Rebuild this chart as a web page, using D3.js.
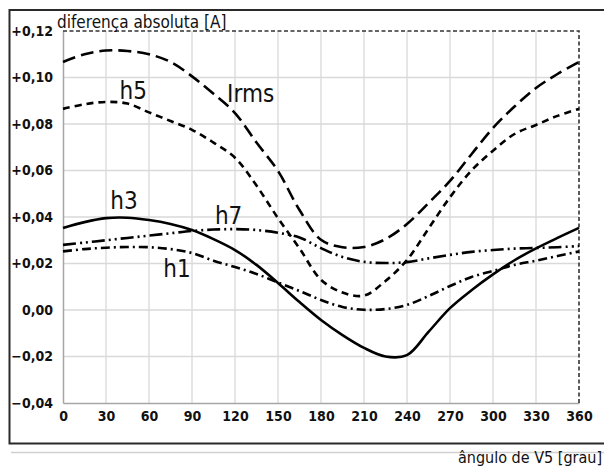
<!DOCTYPE html>
<html>
<head>
<meta charset="utf-8">
<script src="https://cdn.jsdelivr.net/npm/d3@7/dist/d3.min.js"></script>
<style>
  html, body { margin: 0; padding: 0; background: #fff; }
  svg { display: block; }
</style>
</head>
<body>
<svg id="chart" width="604" height="468"></svg>
<script>
// Angle of V5 in degrees, sampled every 15°
const angles = [0, 15, 30, 45, 60, 75, 90, 105, 120, 135, 150, 165, 180,
                195, 210, 225, 240, 255, 270, 285, 300, 315, 330, 345, 360];

// Absolute difference [A] for each quantity
const irms = [0.1067, 0.1100, 0.1116, 0.1114, 0.1100, 0.1067, 0.1005, 0.0930, 0.0847, 0.0720, 0.0598, 0.0430, 0.0302,
              0.0270, 0.0271, 0.0305, 0.0370, 0.0460, 0.0555, 0.0670, 0.0783, 0.0875, 0.0955, 0.1015, 0.1067];
const h5   = [0.0865, 0.0885, 0.0895, 0.0888, 0.0850, 0.0813, 0.0775, 0.0720, 0.0655, 0.0535, 0.0395, 0.0265, 0.0130,
              0.0075, 0.0062, 0.0125, 0.0215, 0.0350, 0.0485, 0.0600, 0.0685, 0.0757, 0.0796, 0.0835, 0.0865];
const h3   = [0.0353, 0.0378, 0.0395, 0.0397, 0.0387, 0.0370, 0.0344, 0.0305, 0.0258, 0.0194, 0.0116, 0.0034, -0.0043,
              -0.0108, -0.0163, -0.0200, -0.0194, -0.0094, 0.0008, 0.0085, 0.0153, 0.0214, 0.0265, 0.0310, 0.0353];
const h7   = [0.0280, 0.0290, 0.0300, 0.0310, 0.0320, 0.0330, 0.0340, 0.0346, 0.0348, 0.0344, 0.0332, 0.0312, 0.0266,
              0.0228, 0.0207, 0.0202, 0.0206, 0.0222, 0.0237, 0.0250, 0.0258, 0.0264, 0.0267, 0.0270, 0.0275];
const h1   = [0.0252, 0.0262, 0.0268, 0.0271, 0.0270, 0.0262, 0.0245, 0.0212, 0.0185, 0.0155, 0.0118, 0.0082, 0.0043,
              0.0013, 0.0001, 0.0004, 0.0022, 0.0060, 0.0103, 0.0142, 0.0168, 0.0194, 0.0212, 0.0232, 0.0252];

// Axis ticks
const xTicks = [0, 30, 60, 90, 120, 150, 180, 210, 240, 270, 300, 330, 360];
const yTicks = [-0.04, -0.02, 0.00, 0.02, 0.04, 0.06, 0.08, 0.10, 0.12];
const yTickLabels = ["\u22120,04", "\u22120,02", "0,00", "+0,02", "+0,04", "+0,06", "+0,08", "+0,10", "+0,12"];

// Series names with the point where each name is written (angle, value)
const seriesNames = ["Irms", "h5", "h3", "h7", "h1"];
const labelAngles = [114.5, 39.5, 33, 106, 70];
const labelValues = [0.0895, 0.0908, 0.0434, 0.0370, 0.0142];

const svg = d3.select("#chart");
const W = 604, H = 468;
const plot = { left: 63, top: 31, width: 516, height: 372 };

const x = d3.scaleLinear().domain([0, 360]).range([plot.left, plot.left + plot.width]);
const y = d3.scaleLinear().domain([-0.04, 0.12]).range([plot.top + plot.height, plot.top]);

const tickFont = "'DejaVu Sans Condensed', 'DejaVu Sans', sans-serif";
const textFont = "'Liberation Sans Narrow', 'DejaVu Sans Condensed', sans-serif";

// Outer frame
svg.append("line").attr("x1", 11).attr("x2", W).attr("y1", 452.5).attr("y2", 452.5)
  .attr("stroke", "#d0d0d0").attr("stroke-width", 1.5);
svg.append("path")
  .attr("d", `M${W + 5},10 H9.5 V443.5 H${W + 5}`)
  .attr("fill", "none").attr("stroke", "#2a2a2a").attr("stroke-width", 2);

// Gridlines
const grid = svg.append("g");
grid.selectAll(".vg").data(xTicks.slice(1, -1)).join("line")
  .attr("x1", d => x(d)).attr("x2", d => x(d))
  .attr("y1", plot.top).attr("y2", plot.top + plot.height)
  .attr("stroke", "#d9d9d9").attr("stroke-width", 1.3);
grid.selectAll(".hg").data(yTicks.slice(1, -1)).join("line")
  .attr("x1", plot.left).attr("x2", plot.left + plot.width)
  .attr("y1", d => y(d)).attr("y2", d => y(d))
  .attr("stroke", "#d9d9d9").attr("stroke-width", 1.3);

// Axes (left and bottom solid, top and right dashed)
const xAxis = d3.axisBottom(x).tickValues(xTicks).tickSize(0).tickPadding(8).tickFormat(d3.format("d"));
const yAxis = d3.axisLeft(y).tickValues(yTicks).tickSize(0).tickPadding(10)
  .tickFormat((d, i) => yTickLabels[i]);

const gx = svg.append("g").attr("transform", `translate(0,${plot.top + plot.height})`).call(xAxis);
const gy = svg.append("g").attr("transform", `translate(${plot.left},0)`).call(yAxis);
[gx, gy].forEach(g => {
  g.select(".domain").attr("stroke", "#a6a6a6").attr("stroke-width", 1.5);
  g.selectAll("text").attr("font-family", tickFont).attr("font-size", 14)
    .attr("font-weight", "bold").attr("fill", "#111");
});

svg.append("path")
  .attr("d", `M${plot.left},${plot.top} H${plot.left + plot.width} V${plot.top + plot.height}`)
  .attr("fill", "none").attr("stroke", "#333").attr("stroke-width", 1.6)
  .attr("stroke-dasharray", "4,2.5");

// Curves
const line = d3.line().x((d, i) => x(angles[i])).y(d => y(d)).curve(d3.curveCatmullRom.alpha(0.5));
const series = [
  { values: irms, dash: "13,6" },
  { values: h5,   dash: "7,5" },
  { values: h3,   dash: null },
  { values: h7,   dash: "13,4,2,4,2,4" },
  { values: h1,   dash: "9,4,2,4" }
];
svg.append("g").selectAll("path").data(series).join("path")
  .attr("d", d => line(d.values))
  .attr("fill", "none").attr("stroke", "#000").attr("stroke-width", 2.6)
  .attr("stroke-dasharray", d => d.dash);

// Series names
svg.append("g").selectAll("text").data(seriesNames).join("text")
  .attr("x", (d, i) => x(labelAngles[i]))
  .attr("y", (d, i) => y(labelValues[i]))
  .attr("font-family", textFont).attr("font-size", 24).attr("fill", "#111")
  .text(d => d);

// Axis titles
svg.append("text").attr("x", 57).attr("y", 27.5)
  .attr("font-family", textFont).attr("font-size", 17).attr("fill", "#111")
  .text("diferença absoluta [A]");
svg.append("text").attr("x", 602).attr("y", 463).attr("text-anchor", "end")
  .attr("font-family", textFont).attr("font-size", 16).attr("fill", "#111")
  .text("ângulo de V5 [grau]");
</script>
</body>
</html>
